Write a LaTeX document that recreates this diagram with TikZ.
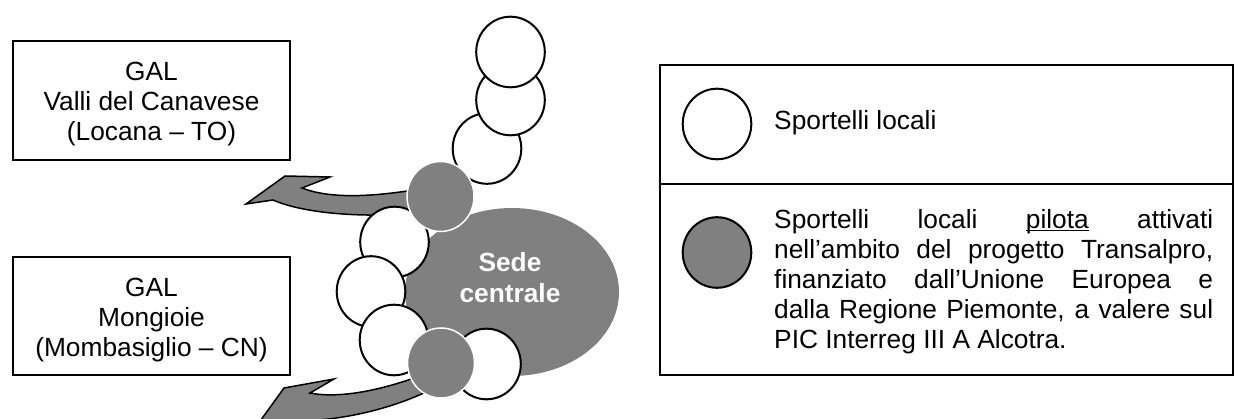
\documentclass[tikz,border=0pt]{standalone}
\usepackage{fontspec}
\setmainfont{Liberation Sans}
\usetikzlibrary{shapes.geometric}
\definecolor{pilotgray}{HTML}{808080}
\newcommand{\txtsize}{\fontsize{26.3}{30.2}\selectfont}
% underline drawn just below the baseline
\newcommand{\lowrule}[1]{\setbox0\hbox{#1}\rlap{\rule[-3.2pt]{\wd0}{1.3pt}}\box0\relax}

\begin{document}
\begin{tikzpicture}[x=1pt,y=-1pt,
  spot/.style={ellipse, draw=black, line width=2pt, fill=white,
    minimum width=68.6pt, minimum height=70.6pt, inner sep=0pt},
  pilot/.style={ellipse, draw=white, line width=1.5pt, fill=pilotgray,
    minimum width=67pt, minimum height=70pt, inner sep=0pt},
  keypilot/.style={spot, fill=pilotgray},
  galbox/.style={rectangle, draw=black, line width=2.2pt, inner sep=0pt,
    minimum width=276.8pt},
  galtext/.style={inner sep=0pt, align=center, font=\txtsize, anchor=north},
  hq/.style={ellipse, fill=pilotgray, inner sep=0pt,
    minimum width=214pt, minimum height=168pt},
  hqtext/.style={inner sep=0pt, align=center, text=white,
    font=\bfseries\txtsize, anchor=north},
  swoosh/.style={fill=pilotgray, draw=black, line width=1.5pt, line join=miter},
  keytext/.style={inner sep=0pt, font=\txtsize}]

\useasboundingbox (0,0) rectangle (1241,419);
\clip (0,0) rectangle (1241,419);

% local action groups
\node[galbox, minimum height=118.8pt] (gal1) at (151.5,100.5) {};
\node[galtext] (gal1t) at (151.5,61.8) {GAL\\Valli del Canavese\\(Locana – TO)};
\node[galbox, minimum height=117.8pt] (gal2) at (151.5,316) {};
\node[galtext] (gal2t) at (151.5,277.8) {GAL\\Mongioie\\(Mombasiglio – CN)};

% head office
\node[hq] (sede) at (512,292) {};
\node[hqtext] (sedet) at (510,252.6) {Sede\\centrale};

% curved arrows from the pilot desks to the GAL offices
\path[swoosh] (246,204) -- (285,176) -- (330,177) -- (302,188)
  .. controls (330,199) and (372,197) .. (420,189) -- (420,213)
  .. controls (365,218) and (305,214) .. (273,200) -- cycle;
\path[swoosh] (258,424) -- (284,388) -- (334,379) -- (310,393)
  .. controls (340,399) and (385,390) .. (430,372) -- (430,390)
  .. controls (390,410) and (335,422) .. (290,421) -- cycle;

% chain of local desks
\node[spot] (d3) at (487,148.5) {};
\node[spot] (d2) at (510.5,100) {};
\node[spot] (d1) at (510.5,52) {};
\node[spot] (d5) at (394.5,242) {};
\node[spot] (d6) at (371,291.5) {};
\node[spot] (d7) at (394,340) {};
\node[spot] (d8) at (486.5,364) {};
\node[pilot] (p1) at (440.5,196.5) {};
\node[pilot] (p2) at (441,363) {};

% legend
\node[rectangle, draw=black, line width=2.2pt, inner sep=0pt,
  minimum width=572.8pt, minimum height=309.8pt] (key) at (946.5,220) {};
\draw[line width=2.2pt] (key.west |- 0,184) -- (key.east |- 0,184);
\node[spot] (k1) at (717,124) {};
\node[keytext, anchor=base west] (k1t) at (774,130) {Sportelli locali};
\node[keypilot] (k2) at (717,252.5) {};
\node[keytext, anchor=north west] (k2t) at (774,208.8) {\parbox[t]{439pt}{%
  \makebox[439pt][s]{Sportelli locali \lowrule{pilota} attivati}\\
  \makebox[439pt][s]{nell’ambito del progetto Transalpro,}\\
  \makebox[439pt][s]{finanziato dall’Unione Europea e}\\
  \makebox[439pt][s]{dalla Regione Piemonte, a valere sul}\\
  PIC Interreg III A Alcotra.}};
\end{tikzpicture}
\end{document}
